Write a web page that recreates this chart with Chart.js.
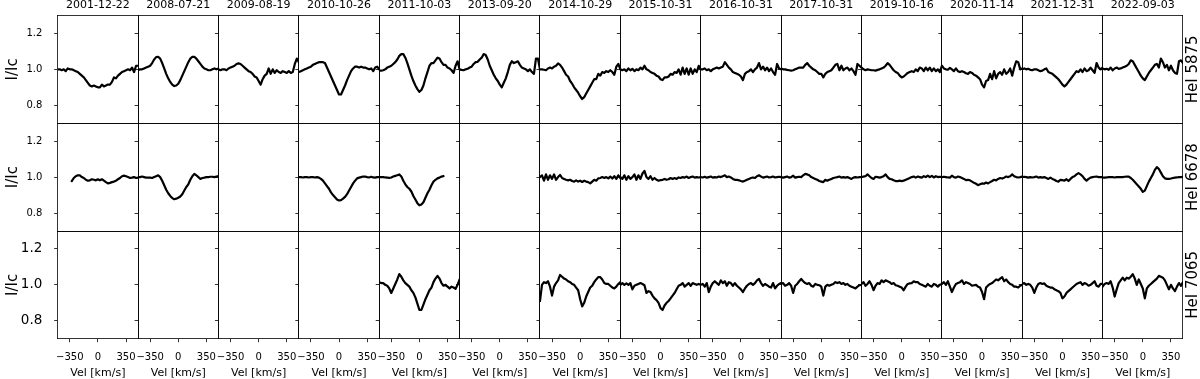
<!DOCTYPE html>
<html>
<head>
<meta charset="utf-8">
<script src="https://cdn.jsdelivr.net/npm/chart.js@4.4.0/dist/chart.umd.min.js"></script>
<style>
  html, body { margin: 0; padding: 0; background: #fff; }
  #grid { position: relative; width: 1200px; height: 379px; overflow: hidden; }
  #grid canvas { position: absolute; }
</style>
</head>
<body>
<div id="grid"></div>
<script>
// velocity grid (km/s) shared by every profile
const velocity = [
  -500, -475, -450, -425, -400, -375, -350, -325, -300, -275,
  -250, -225, -200, -175, -150, -125, -100, -75, -50, -25,
  0, 25, 50, 75, 100, 125, 150, 175, 200, 225,
  250, 275, 300, 325, 350, 375, 400, 425, 450, 475, 500
];
const dates = ['2001-12-22', '2008-07-21', '2009-08-19', '2010-10-26', '2011-10-03', '2013-09-20', '2014-10-29',
  '2015-10-31', '2016-10-31', '2017-10-31', '2019-10-16', '2020-11-14', '2021-12-31', '2022-09-03'];
const lineNames = ['HeI 5875', 'HeI 6678', 'HeI 7065'];
const yTickValues = [0.8, 1.0, 1.2];
const xTickValues = [-350, 0, 350];

// ---- HeI 5875 ----
const he5875_2001 = [1.00,1.00,0.995,1.00,0.99,1.005,1.00,1.00,0.995,0.99,
  0.985,0.975,0.965,0.955,0.94,0.925,0.91,0.905,0.91,0.905,
  0.90,0.90,0.915,0.905,0.91,0.915,0.915,0.93,0.955,0.95,
  0.965,0.975,0.985,0.99,0.995,1.00,0.995,1.01,0.985,1.02,1.02];
const he5875_2008 = [0.995,1.00,1.00,1.005,1.01,1.015,1.02,1.035,1.055,1.068,
  1.07,1.06,1.035,1.005,0.975,0.95,0.93,0.915,0.907,0.91,
  0.92,0.94,0.965,0.99,1.015,1.04,1.06,1.07,1.07,1.06,
  1.045,1.03,1.015,1.005,1.00,0.995,0.995,1.00,1.005,1.00,1.005];
const he5875_2009 = [1.00,0.995,1.00,1.00,0.995,1.005,1.01,1.015,1.02,1.03,
  1.033,1.03,1.02,1.01,1.00,0.99,0.985,0.975,0.96,0.955,
  0.935,0.915,0.945,0.965,0.975,1.005,0.975,1.00,0.98,0.995,
  0.985,0.98,0.99,0.985,0.98,0.99,0.98,0.985,1.03,1.06,1.04];
const he5875_2010 = [0.985,0.99,0.995,1.00,1.005,1.01,1.015,1.025,1.03,1.035,
  1.04,1.04,1.04,1.035,1.01,0.985,0.96,0.935,0.91,0.885,
  0.86,0.86,0.885,0.91,0.94,0.965,0.99,1.005,1.015,1.015,
  1.01,1.015,1.01,1.01,1.005,1.00,1.005,0.99,1.01,1.015,1.00];
const he5875_2011 = [0.993,0.993,0.995,1.00,1.01,1.015,1.02,1.03,1.04,1.055,
  1.075,1.085,1.085,1.065,1.035,1.00,0.965,0.935,0.91,0.89,
  0.875,0.885,0.91,0.95,0.985,1.02,1.035,1.035,1.05,1.065,
  1.06,1.04,1.025,1.025,1.01,1.005,0.995,0.98,1.02,1.045,1.00];
const he5875_2013 = [1.00,0.997,0.995,1.00,1.003,1.01,1.015,1.03,1.04,1.042,
  1.055,1.065,1.085,1.08,1.055,1.02,0.995,0.97,0.95,0.935,
  0.915,0.90,0.925,0.95,0.985,1.025,1.045,1.035,1.04,1.045,
  1.025,1.01,1.005,1.00,0.99,1.00,0.985,0.975,1.06,1.06,1.00];
const he5875_2014 = [1.00,1.00,0.998,0.995,1.005,1.01,1.005,1.015,1.02,1.033,
  1.025,1.01,0.99,0.97,0.96,0.935,0.92,0.90,0.885,0.87,
  0.85,0.835,0.845,0.865,0.885,0.905,0.925,0.945,0.945,0.975,
  0.965,0.985,0.98,0.99,0.985,0.995,0.985,0.97,1.015,1.03,1.00];
const he5875_2015 = [1.00,0.995,1.00,0.99,1.005,0.995,1.003,0.99,1.00,0.995,
  1.01,1.00,1.02,1.00,0.995,0.985,0.98,0.975,0.965,0.96,
  0.945,0.94,0.955,0.955,0.96,0.975,0.97,0.985,0.98,1.00,
  0.97,1.01,0.975,1.005,0.97,1.005,0.975,1.00,0.985,1.02,1.00];
const he5875_2016 = [1.00,1.00,1.005,0.995,1.00,0.99,1.00,1.005,1.01,1.005,
  1.01,1.015,1.04,1.025,1.01,1.00,0.985,0.98,0.975,0.97,
  0.96,0.94,0.975,0.985,0.99,1.00,0.985,1.00,1.01,1.035,
  1.00,1.015,0.995,1.01,0.99,1.005,0.985,0.97,1.03,1.005,1.00];
const he5875_2017 = [1.005,1.00,1.00,0.997,0.995,0.993,0.995,1.00,1.005,1.01,
  1.01,1.01,1.025,1.035,1.02,1.01,1.00,0.995,0.985,0.975,
  0.975,0.955,0.975,0.985,0.99,0.995,1.01,1.025,1.03,0.995,
  1.02,0.995,1.005,1.01,0.995,1.005,0.99,0.97,1.03,1.02,1.01];
const he5875_2019 = [1.01,1.00,0.995,1.00,0.998,0.995,0.995,0.993,0.997,1.00,
  1.005,1.01,1.02,1.035,1.025,1.01,0.995,0.985,0.98,0.965,
  0.955,0.96,0.97,0.98,0.985,0.99,0.985,1.00,0.99,1.01,
  1.005,0.99,1.01,0.995,1.01,0.99,1.005,0.99,1.00,0.985,1.02];
const he5875_2020 = [1.02,1.005,1.00,0.998,1.008,1.00,0.99,1.005,0.99,0.985,
  0.99,0.985,0.978,0.975,0.985,0.98,0.97,0.965,0.955,0.945,
  0.915,0.90,0.935,0.94,0.975,0.945,0.99,0.95,0.975,0.985,
  0.97,1.00,0.975,0.985,1.005,0.965,1.01,1.045,1.04,1.00,1.005];
const he5875_2021 = [1.00,1.005,1.00,1.003,0.997,0.995,1.00,1.00,0.995,0.99,
  0.993,1.00,1.005,0.985,0.98,0.975,0.965,0.955,0.945,0.93,
  0.915,0.905,0.915,0.93,0.945,0.96,0.975,0.99,0.985,1.00,
  0.985,1.005,0.99,0.995,1.01,0.995,0.98,1.035,1.01,1.00,1.01];
const he5875_2022 = [1.005,1.00,1.003,0.997,1.01,0.995,1.005,1.01,1.003,1.005,
  1.01,1.015,1.02,1.03,1.05,1.045,1.025,1.005,0.985,0.965,
  0.95,0.94,0.96,0.98,0.995,1.01,1.025,1.03,1.01,1.06,
  1.04,1.01,1.025,0.995,1.02,0.995,0.98,0.975,1.045,1.05,1.035];

// ---- HeI 6678 ----
const he6678_2001 = [null,null,null,null,null,null,null,0.978,0.995,1.005,
  1.01,1.01,1.00,0.995,0.985,0.98,0.982,0.988,0.985,0.982,
  0.988,0.982,0.988,0.98,0.972,0.965,0.968,0.972,0.975,0.98,
  0.988,0.995,1.005,1.008,1.005,1.00,0.995,0.997,1.00,0.995,0.997];
const he6678_2008 = [1.00,1.00,1.003,1.00,0.997,0.997,0.997,0.995,1.00,1.005,
  1.01,1.00,0.98,0.955,0.93,0.91,0.895,0.883,0.877,0.88,
  0.885,0.892,0.905,0.925,0.945,0.96,0.985,1.005,1.018,1.01,
  1.00,0.99,0.995,0.997,1.00,1.00,1.002,1.002,1.00,1.003,1.005];
const he6678_2010 = [1.00,1.00,0.998,1.00,1.00,0.998,1.00,1.00,0.998,1.00,
  0.997,0.99,0.98,0.965,0.95,0.935,0.915,0.90,0.888,0.875,
  0.87,0.872,0.88,0.89,0.905,0.925,0.945,0.965,0.98,0.993,
  0.997,1.00,1.003,1.003,1.00,0.998,1.002,0.998,0.997,1.00,1.00];
const he6678_2011 = [1.00,1.00,1.00,0.998,0.997,0.996,0.998,1.003,1.007,1.01,
  1.015,1.003,0.98,0.96,0.945,0.935,0.92,0.895,0.875,0.855,
  0.843,0.848,0.86,0.885,0.91,0.93,0.955,0.975,0.985,0.993,
  0.997,1.003,1.005,null,null,null,null,null,null,null,null];
const he6678_2014 = [1.00,1.01,0.98,1.015,0.985,1.01,0.99,1.015,0.985,1.00,
  1.012,0.995,0.99,0.985,0.982,0.985,0.978,0.975,0.982,0.975,
  0.98,0.973,0.98,0.975,0.972,0.965,0.975,0.985,0.98,0.993,
  0.995,1.00,0.995,1.00,0.993,1.003,0.992,1.005,0.99,1.01,0.995];
const he6678_2015 = [1.00,0.99,1.01,0.985,1.005,0.99,1.00,1.015,0.985,1.01,
  0.99,1.02,1.035,1.00,0.99,1.005,0.985,0.995,0.985,0.98,
  0.983,0.985,0.99,0.985,0.988,0.995,0.99,0.995,0.99,0.998,
  0.995,1.00,0.997,1.003,0.995,1.00,1.003,0.997,1.00,0.998,1.00];
const he6678_2016 = [1.00,0.998,1.002,0.997,1.00,1.003,0.997,1.00,0.998,1.003,
  1.00,1.005,1.01,1.00,1.003,0.998,0.99,0.985,0.985,0.982,
  0.978,0.975,0.98,0.985,0.99,0.995,0.998,0.995,1.005,1.01,
  1.003,0.997,1.00,1.003,0.998,1.00,1.003,0.998,1.00,1.002,1.00];
const he6678_2017 = [1.00,0.997,1.00,1.003,0.997,1.00,1.008,0.997,1.00,1.002,
  1.00,1.01,1.018,1.015,1.01,1.00,0.995,0.99,0.985,0.978,
  0.975,0.972,0.985,0.98,0.985,0.99,0.995,0.998,1.00,1.003,
  0.997,1.00,0.997,1.00,0.995,0.99,0.997,1.00,0.998,1.00,1.00];
const he6678_2019 = [1.00,1.003,1.005,1.015,1.005,0.995,0.99,1.002,1.00,0.997,
  1.00,1.005,1.015,1.00,0.99,0.988,0.982,0.978,0.978,0.98,
  0.978,0.98,0.985,0.99,0.995,1.00,1.003,0.997,1.003,1.00,
  0.997,1.005,1.00,1.008,1.00,1.007,0.998,1.005,1.00,1.002,1.00];
const he6678_2020 = [1.00,1.002,1.00,0.998,0.997,1.008,1.00,0.997,1.003,1.00,
  0.995,0.99,0.983,0.985,0.982,0.975,0.968,0.963,0.955,0.96,
  0.965,0.963,0.97,0.965,0.972,0.978,0.985,0.982,0.99,0.995,
  0.992,0.997,1.003,1.00,1.005,1.015,1.005,1.00,0.998,1.00,1.003];
const he6678_2021 = [1.00,1.002,1.00,0.997,1.00,0.998,1.00,1.003,0.997,1.00,
  0.997,1.00,0.995,0.99,0.997,0.99,0.985,0.978,0.975,0.985,
  0.983,0.98,0.988,0.978,0.99,1.00,1.005,1.015,1.022,1.015,
  1.005,0.99,0.98,0.99,0.997,1.00,1.002,1.003,1.00,1.00,1.00];
const he6678_2022 = [0.997,0.997,0.998,1.00,1.00,1.00,0.998,1.00,1.00,1.00,
  1.00,1.002,1.003,1.003,0.995,0.985,0.973,0.96,0.948,0.935,
  0.918,0.925,0.95,0.975,0.995,1.015,1.04,1.056,1.045,1.025,
  1.005,0.993,0.99,0.99,0.992,0.995,0.997,0.998,1.00,1.00,1.002];

// ---- HeI 7065 ----
const he7065_2011 = [1.015,1.01,1.01,1.00,0.995,0.98,0.955,0.98,1.005,1.03,
  1.06,1.045,1.025,1.01,1.00,0.99,0.97,0.955,0.93,0.895,
  0.86,0.86,0.89,0.92,0.945,0.97,0.985,1.015,1.035,1.05,
  1.035,1.01,0.995,1.00,0.99,0.98,0.99,0.985,0.978,1.00,1.03];
const he7065_2014 = [0.91,1.00,1.015,1.01,1.02,0.99,0.94,0.99,1.01,1.025,
  1.055,1.045,1.035,1.03,1.02,1.015,1.005,1.00,0.985,0.97,
  0.92,0.88,0.90,0.935,0.96,0.985,0.995,1.015,1.03,1.043,
  1.043,1.03,1.01,1.005,1.005,0.995,0.985,0.98,0.99,1.005,1.015];
const he7065_2015 = [1.00,1.01,1.00,1.008,1.00,1.01,0.975,0.995,1.00,1.005,
  1.01,1.005,0.998,0.955,0.965,0.96,0.94,0.925,0.915,0.90,
  0.87,0.86,0.885,0.90,0.91,0.925,0.94,0.955,0.975,0.995,
  1.00,1.01,0.99,1.00,1.01,0.995,1.01,1.005,1.00,1.005,1.00];
const he7065_2016 = [1.00,1.005,0.99,1.01,0.96,0.99,1.01,1.02,1.01,1.00,
  1.025,1.01,1.02,0.995,1.015,1.01,0.995,1.01,0.995,0.985,
  0.975,0.96,0.98,0.995,1.005,1.01,1.00,1.01,1.025,1.033,
  1.01,0.995,1.005,0.998,0.99,0.985,1.01,0.98,0.995,1.005,1.01];
const he7065_2017 = [1.005,1.01,0.995,1.00,1.01,0.995,0.955,0.995,1.005,1.02,
  1.033,1.02,1.01,1.005,1.01,0.995,0.99,1.005,1.00,0.998,
  0.99,0.94,0.99,1.00,0.995,1.00,1.005,1.015,1.01,1.015,
  1.005,1.01,1.00,1.005,0.995,0.99,0.985,0.98,0.99,0.998,1.00];
const he7065_2019 = [1.005,1.015,0.995,1.005,1.02,1.00,0.97,0.995,1.01,1.005,
  1.025,1.015,1.025,1.02,1.015,1.005,1.01,0.998,0.995,0.99,
  0.985,0.97,0.99,1.005,1.008,1.01,1.02,1.015,1.015,1.005,
  1.00,0.995,0.99,1.005,0.995,0.99,1.005,1.00,0.99,1.00,1.005];
const he7065_2020 = [1.005,1.015,1.00,1.02,0.99,0.96,0.985,1.005,1.01,1.015,
  1.025,1.005,1.015,1.01,1.005,0.995,0.998,1.00,0.99,0.985,
  0.96,0.92,0.985,0.997,1.005,1.01,1.02,1.03,1.025,1.035,
  1.043,1.02,1.03,1.015,1.005,1.00,0.99,0.99,0.985,0.995,1.00];
const he7065_2021 = [1.005,1.01,1.00,1.005,1.00,0.985,0.955,0.985,1.005,1.01,
  1.005,1.008,0.995,0.99,0.985,0.985,0.975,0.97,0.965,0.955,
  0.925,0.935,0.955,0.965,0.975,0.985,0.995,1.005,1.01,1.015,
  1.00,1.01,1.005,0.995,1.00,1.01,1.02,0.995,0.99,1.005,1.005];
const he7065_2022 = [0.99,1.005,1.01,1.005,1.02,0.985,0.935,0.975,1.01,1.025,
  1.04,1.025,1.04,1.035,1.045,1.06,1.035,1.00,1.03,1.005,
  0.98,0.925,0.98,0.995,1.005,1.015,1.025,1.035,1.05,1.045,
  1.04,1.025,1.00,0.975,1.00,0.98,0.965,0.99,1.01,0.995,1.015];

// one entry per date, null where no spectrum was taken
const row5875 = [he5875_2001, he5875_2008, he5875_2009, he5875_2010, he5875_2011, he5875_2013, he5875_2014,
  he5875_2015, he5875_2016, he5875_2017, he5875_2019, he5875_2020, he5875_2021, he5875_2022];
const row6678 = [he6678_2001, he6678_2008, null, he6678_2010, he6678_2011, null, he6678_2014,
  he6678_2015, he6678_2016, he6678_2017, he6678_2019, he6678_2020, he6678_2021, he6678_2022];
const row7065 = [null, null, null, null, he7065_2011, null, he7065_2014,
  he7065_2015, he7065_2016, he7065_2017, he7065_2019, he7065_2020, he7065_2021, he7065_2022];
const rows = [row5875, row6678, row7065];

// panel grid geometry
const gridLeft = 57.7, gridRight = 1183.0;
const rowEdges = [15.5, 123.2, 231.0, 338.7];
const colWidth = (gridRight - gridLeft) / dates.length;

Chart.defaults.font.family = '"DejaVu Sans", sans-serif';
Chart.defaults.color = '#000';

const spine = { display: true, color: '#000', width: 0.8, z: 1 };

// fixed axis box size, and no extra room for tick labels sticking out
function fixBox(s, w, h) {
    if (w !== null) s.width = w;
    if (h !== null) s.height = h;
    s.paddingLeft = s.paddingRight = s.paddingTop = s.paddingBottom = 0;
}

// rotated line name to the right of the last column
const rowLabel = {
    id: 'rowLabel',
    afterDraw(chart, args, opts) {
        if (!opts.text) return;
        const { ctx, chartArea } = chart;
        ctx.save();
        ctx.font = '15px "DejaVu Sans"';
        ctx.fillStyle = '#000';
        ctx.textAlign = 'center';
        ctx.textBaseline = 'middle';
        ctx.translate(chartArea.right + opts.offset, (chartArea.top + chartArea.bottom) / 2);
        ctx.rotate(-Math.PI / 2);
        ctx.fillText(opts.text, 0, 0);
        ctx.restore();
    }
};

function makePanel(r, c) {
    const grid = document.getElementById('grid');
    const isFirst = c === 0, isLast = c === dates.length - 1;
    const isTop = r === 0, isBottom = r === rows.length - 1;

    const left = gridLeft + c * colWidth, right = left + colWidth;
    const top = rowEdges[r], bottom = rowEdges[r + 1];
    const cx = Math.max(0, Math.round(left - (isFirst ? 58 : 6)));
    const cy = Math.max(0, Math.round(top - (isTop ? 16 : 2)));
    const cw = Math.round(right + (isLast ? 17 : 2)) - cx;
    const ch = Math.round(bottom + (isBottom ? 40.3 : 2)) - cy;
    const fitL = left - cx, fitT = top - cy;
    const fitR = cw - fitL - colWidth, fitB = ch - fitT - (bottom - top);

    const canvas = document.createElement('canvas');
    canvas.width = cw;
    canvas.height = ch;
    canvas.style.left = cx + 'px';
    canvas.style.top = cy + 'px';
    grid.appendChild(canvas);

    const flux = rows[r][c];
    const datasets = [];
    if (flux) {
        datasets.push({
            data: velocity.map((v, i) => ({ x: v, y: flux[i] })).filter(p => p.y !== null),
            borderColor: '#000',
            borderWidth: 2.2,
            pointRadius: 0,
            tension: 0,
            fill: false,
            borderJoinStyle: 'round',
            borderCapStyle: 'round'
        });
    }

    new Chart(canvas, {
        type: 'line',
        data: { datasets: datasets },
        plugins: [rowLabel],
        options: {
            responsive: false,
            animation: false,
            devicePixelRatio: 1,
            events: [],
            layout: { padding: 0 },
            scales: {
                x: {
                    type: 'linear', position: 'bottom', min: -500, max: 500,
                    afterBuildTicks: s => { s.ticks = xTickValues.map(v => ({ value: v })); },
                    afterFit: s => fixBox(s, null, fitB),
                    border: spine,
                    grid: { drawOnChartArea: false, drawTicks: isBottom, tickLength: 3.5, tickWidth: 0.8, tickColor: '#000' },
                    ticks: {
                        display: isBottom, padding: 10.5, autoSkip: false, maxRotation: 0,
                        font: { size: 10, lineHeight: 1 },
                        callback: v => v < 0 ? '\u2212' + Math.abs(v) : String(v)
                    },
                    title: { display: isBottom, text: 'Vel [km/s]', font: { size: 11, lineHeight: 1 }, padding: { top: 0, bottom: 0 } }
                },
                xTop: {
                    type: 'linear', position: 'top', min: -500, max: 500,
                    afterFit: s => fixBox(s, null, fitT),
                    border: spine,
                    grid: { display: false },
                    ticks: { display: false },
                    title: { display: isTop, text: dates[c], font: { size: 11, lineHeight: 1 }, padding: { top: 0, bottom: 0 } }
                },
                y: {
                    type: 'linear', position: 'left', min: 0.7, max: 1.3,
                    afterBuildTicks: s => { s.ticks = yTickValues.map(v => ({ value: v })); },
                    afterFit: s => fixBox(s, fitL, null),
                    border: spine,
                    grid: { drawOnChartArea: false, drawTicks: true, tickLength: 3.5, tickWidth: 0.8, tickColor: '#000' },
                    ticks: {
                        display: isFirst, padding: 11.9,
                        font: { size: isBottom ? 13.5 : 10, lineHeight: 1 },
                        callback: v => v.toFixed(1)
                    },
                    title: { display: isFirst, text: 'I/Ic', font: { size: 15, lineHeight: 1 }, padding: { top: 5.3, bottom: 0 } }
                },
                yRight: {
                    type: 'linear', position: 'right', min: 0.7, max: 1.3,
                    afterFit: s => fixBox(s, fitR, null),
                    border: spine,
                    grid: { display: false },
                    ticks: { display: false }
                }
            },
            plugins: {
                legend: { display: false },
                tooltip: { enabled: false },
                rowLabel: { text: isLast ? lineNames[r] : '', offset: 10 }
            }
        }
    });
}

for (let r = 0; r < rows.length; r++) {
    for (let c = 0; c < dates.length; c++) {
        makePanel(r, c);
    }
}
</script>
</body>
</html>
